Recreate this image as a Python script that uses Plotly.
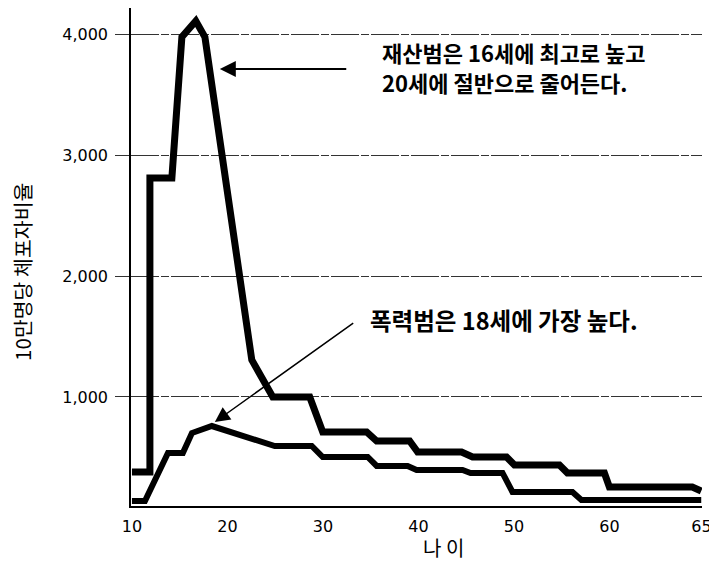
import plotly.graph_objects as go

# 재산범 (property crime) arrests per 100k by age
age_property = [10, 11.88, 11.88, 14.18, 15.23, 16.69, 17.64, 22.55, 24.75, 28.62,
                29.98, 34.58, 35.63, 39.08, 39.92, 44.52, 45.67, 49.23, 50.06, 54.77,
                55.61, 59.48, 60.0, 68.68, 69.62]
rate_property = [380, 380, 2810, 2810, 3975, 4107, 3975, 1306, 1000, 1000,
                 711, 711, 636, 636, 545, 545, 504, 504, 438, 438,
                 372, 372, 256, 256, 223]

# 폭력범 (violent crime) arrests per 100k by age
age_violent = [10, 11.36, 13.77, 15.33, 16.28, 18.37, 24.96, 28.83, 29.98, 34.69,
               35.63, 38.87, 39.81, 44.62, 45.46, 48.81, 49.85, 56.13, 57.07, 69.62]
rate_violent = [140, 140, 537, 537, 702, 760, 595, 595, 504, 504,
                430, 430, 397, 397, 372, 372, 215, 215, 149, 149]

x_tickvals = [10, 20, 30, 40, 50, 60, 69.65]
x_ticktext = ["10", "20", "30", "40", "50", "60", "65"]
y_tickvals = [1000, 2000, 3000, 4000]
y_ticktext = ["1,000", "2,000", "3,000", "4,000"]

fig = go.Figure()
fig.add_trace(go.Scatter(x=age_violent, y=rate_violent, mode="lines",
                         line=dict(color="black", width=6), name="폭력범",
                         hoverinfo="x+y"))
fig.add_trace(go.Scatter(x=age_property, y=rate_property, mode="lines",
                         line=dict(color="black", width=7), name="재산범",
                         hoverinfo="x+y"))

kfont = "Noto Sans CJK KR"
note_font = dict(family=kfont, size=22, color="black", weight="bold")

fig.update_layout(
    width=709, height=555,
    margin=dict(l=123, r=15, t=0, b=57),
    paper_bgcolor="white", plot_bgcolor="white",
    showlegend=False,
    xaxis=dict(range=[9.9, 69.7], tickvals=x_tickvals, ticktext=x_ticktext,
               showgrid=False, zeroline=False, showline=True, linecolor="black",
               linewidth=1.5, ticks="", ticklabelstandoff=5,
               tickfont=dict(family="DejaVu Sans", size=16, color="black")),
    yaxis=dict(range=[99, 4215], tickvals=y_tickvals, ticktext=y_ticktext,
               showgrid=True, gridcolor="#333", gridwidth=1,
               griddash="28px,2px,8px,2px",
               zeroline=False, showline=True, linecolor="black", linewidth=1.5,
               ticks="outside", ticklen=14, tickcolor="#333", tickwidth=1,
               ticklabelstandoff=4,
               tickfont=dict(family="DejaVu Sans", size=16, color="black")),
    annotations=[
        dict(text="나 이", xref="paper", yref="paper", x=0.548, y=-0.084,
             showarrow=False, xanchor="center", yanchor="middle",
             font=dict(family=kfont, size=20, color="black")),
        dict(text="10만명당 체포자비율", xref="paper", yref="paper",
             x=-0.191, y=0.47, textangle=-90, showarrow=False,
             xanchor="center", yanchor="middle",
             font=dict(family=kfont, size=20.5, color="black")),
        dict(text="재산범은 16세에 최고로 높고",
             x=35.94, y=3851, xref="x", yref="y", showarrow=False,
             xanchor="left", yanchor="middle", align="left", font=note_font),
        dict(text="20세에 절반으로 줄어든다.",
             x=35.94, y=3603, xref="x", yref="y", showarrow=False,
             xanchor="left", yanchor="middle", align="left", font=note_font),
        dict(text="폭력범은 18세에 가장 높다.",
             x=34.69, y=1636, xref="x", yref="y", showarrow=False,
             xanchor="left", yanchor="middle", align="left",
             font=dict(family=kfont, size=23.5, color="black", weight="bold")),
        dict(text="", x=19.2, y=3711, ax=32.6, ay=3711, xref="x", yref="y",
             axref="x", ayref="y", showarrow=True, arrowhead=2, arrowsize=1.6,
             arrowwidth=2, arrowcolor="black"),
        dict(text="", x=18.68, y=793, ax=33.33, ay=1620, xref="x", yref="y",
             axref="x", ayref="y", showarrow=True, arrowhead=2, arrowsize=2,
             arrowwidth=1.5, arrowcolor="black"),
    ],
)

fig.write_html("out.html")
